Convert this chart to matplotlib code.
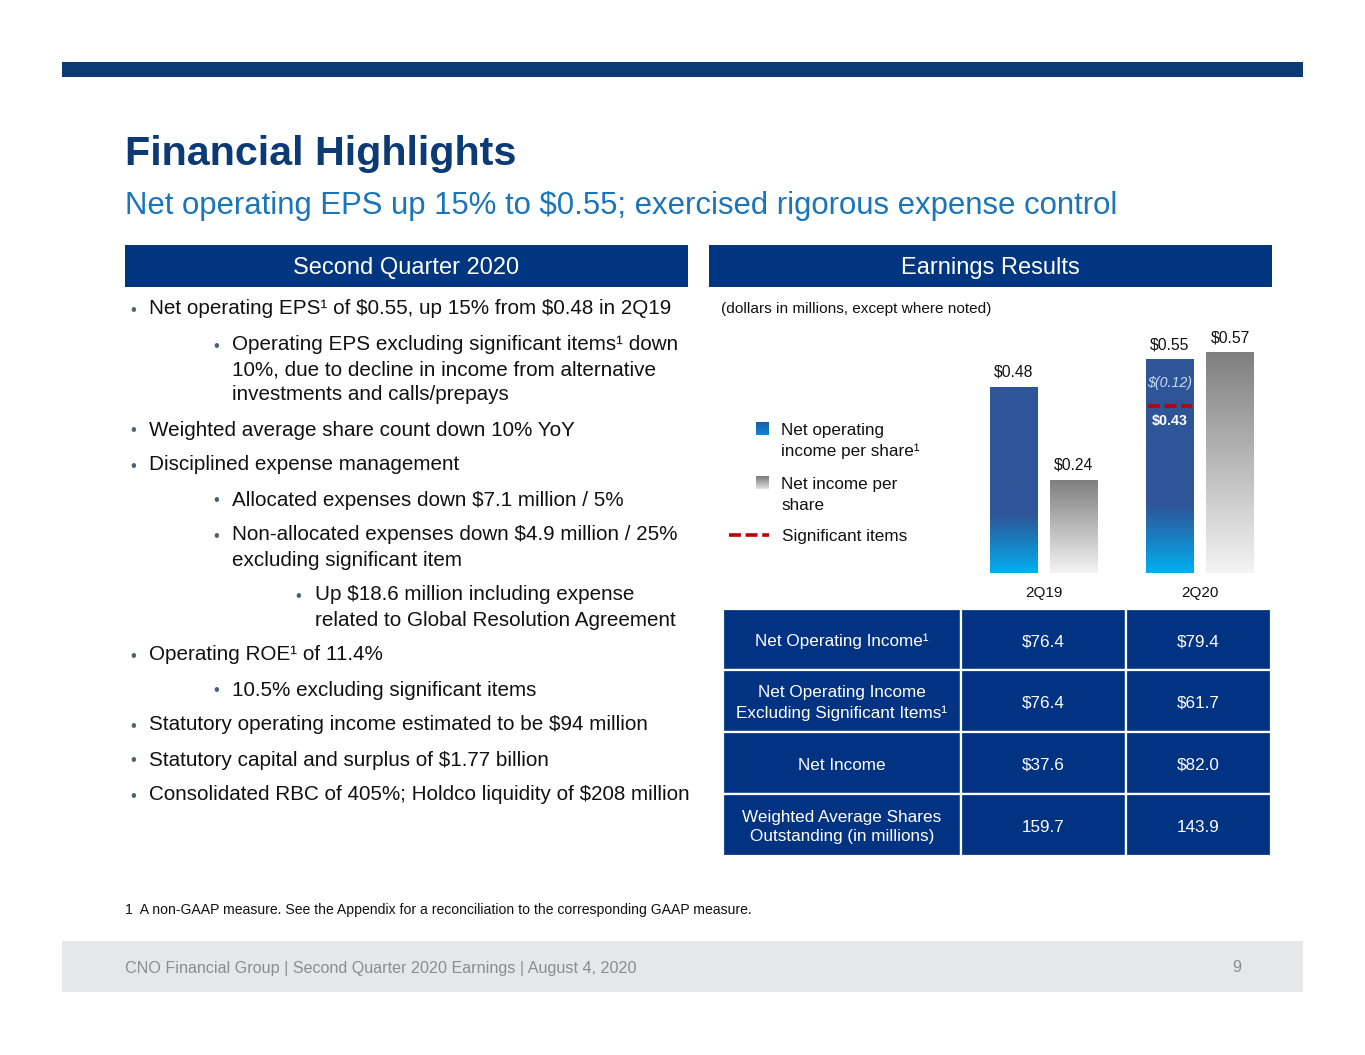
import numpy as np
import matplotlib
matplotlib.use('Agg')
import matplotlib.pyplot as plt
from matplotlib.patches import Rectangle
from matplotlib.colors import to_rgb

plt.rcParams['font.family'] = ['Liberation Sans', 'DejaVu Sans']
plt.rcParams['text.parse_math'] = False

# ---------------- data ----------------
periods = ['2Q19', '2Q20']
net_operating_eps = [0.48, 0.55]
net_income_eps = [0.24, 0.57]
significant_items_2q20 = -0.12
eps_ex_significant_2q20 = 0.43

table_labels = ['Net Operating Income¹',
                'Net Operating Income\nExcluding Significant Items¹',
                'Net Income',
                'Weighted Average Shares\nOutstanding (in millions)']
table_2q19 = [76.4, 76.4, 37.6, 159.7]
table_2q20 = [79.4, 61.7, 82.0, 143.9]
table_is_dollar = [True, True, True, False]

bullets = [
    (0, ["Net operating EPS¹ of $0.55, up 15% from $0.48 in 2Q19"]),
    (1, ["Operating EPS excluding significant items¹ down",
         "10%, due to decline in income from alternative",
         "investments and calls/prepays"]),
    (0, ["Weighted average share count down 10% YoY"]),
    (0, ["Disciplined expense management"]),
    (1, ["Allocated expenses down $7.1 million / 5%"]),
    (1, ["Non-allocated expenses down $4.9 million / 25%",
         "excluding significant item"]),
    (2, ["Up $18.6 million including expense",
         "related to Global Resolution Agreement"]),
    (0, ["Operating ROE¹ of 11.4%"]),
    (1, ["10.5% excluding significant items"]),
    (0, ["Statutory operating income estimated to be $94 million"]),
    (0, ["Statutory capital and surplus of $1.77 billion"]),
    (0, ["Consolidated RBC of 405%; Holdco liquidity of $208 million"]),
]
bullet_y = [307, 343, 428, 463, 498, 533, 593, 653, 688, 723, 758, 793]

# ---------------- styles ----------------
NAVY = '#0B3A74'
HEAD = '#003580'
CELL = '#023383'
BLUE_TOP = '#2E5597'
CYAN = '#00B2F2'
GRAY_TOP = '#7F7F7F'
GRAY_BOT = '#F4F4F4'
RED = '#C00000'
DASH = (0, (3.3, 1.3))
W, H = 1365, 1055
DY = 2  # small vertical correction for text centring

fig = plt.figure(figsize=(W / 100, H / 100), dpi=100)
bg = fig.add_axes([0, 0, 1, 1])
bg.set_xlim(0, W)
bg.set_ylim(H, 0)
bg.axis('off')

def T(x, y, s, **kw):
    kw.setdefault('va', 'center')
    kw.setdefault('ha', 'left')
    return bg.text(x, y + DY, s, **kw)

# top band
bg.add_patch(Rectangle((62, 62), 1241, 15, color=NAVY, lw=0))
# title / subtitle
T(125, 152, 'Financial Highlights', fontsize=29.7, fontweight='bold', color=NAVY)
T(125, 204, 'Net operating EPS up 15% to $0.55; exercised rigorous expense control',
  fontsize=22.4, color='#1B75BB')

# header boxes
bg.add_patch(Rectangle((125, 245), 563, 42, color=HEAD, lw=0))
bg.add_patch(Rectangle((709, 245), 563, 42, color=HEAD, lw=0))
T(406, 266, 'Second Quarter 2020', fontsize=17, color='white', ha='center')
T(990, 266, 'Earnings Results', fontsize=17, color='white', ha='center')

# bullets
bx = [130, 213, 295]
tx = [149, 232, 315]
for (lvl, lines), y0 in zip(bullets, bullet_y):
    T(bx[lvl], y0 + 1, '•', fontsize=12, color='#4F6075')
    for i, ln in enumerate(lines):
        T(tx[lvl], y0 + 25 * i, ln, fontsize=14.85, color='#111111')

T(721, 307, '(dollars in millions, except where noted)', fontsize=11.1, color='#111111')

# legend
def vgrad(top, bot, n=64):
    t = np.linspace(0, 1, n)[:, None]
    a, b = np.array(to_rgb(top)), np.array(to_rgb(bot))
    return (a * (1 - t) + b * t)[:, None, :].repeat(2, axis=1)

bg.imshow(vgrad('#1F5AA8', '#0A8AD6'), extent=[756, 769, 435, 422], origin='upper',
          aspect='auto', zorder=3)
bg.imshow(vgrad('#7A7A7A', '#E2E2E2'), extent=[756, 769, 489, 476], origin='upper',
          aspect='auto', zorder=3)
bg.plot([729, 769], [535, 535], color=RED, lw=2.6, linestyle=DASH, zorder=3)
T(781, 429, 'Net operating', fontsize=12.3, color='#111111')
T(781, 449, 'income per share¹', fontsize=12.3, color='#111111')
T(781, 483, 'Net income per', fontsize=12.3, color='#111111')
T(781, 503, 'share', fontsize=12.3, color='#111111')
T(782, 534, 'Significant items', fontsize=12.3, color='#111111')

# table
xs = [723, 961, 1126, 1271]
ys = [609, 670, 732, 794, 856]
for r in range(4):
    for c in range(3):
        bg.add_patch(Rectangle((xs[c], ys[r]), xs[c + 1] - xs[c], ys[r + 1] - ys[r],
                               facecolor=CELL, edgecolor='white', lw=1.6))
    yc = (ys[r] + ys[r + 1]) / 2
    T((xs[0] + xs[1]) / 2, yc, table_labels[r], fontsize=12.3, color='white',
      ha='center', linespacing=1.4)
    for c, vals in ((1, table_2q19), (2, table_2q20)):
        v = vals[r]
        s = f'${v:.1f}' if table_is_dollar[r] else f'{v:.1f}'
        T((xs[c] + xs[c + 1]) / 2, yc, s, fontsize=12.3, color='white', ha='center')

# footnote and footer
T(125, 908, '1  A non-GAAP measure. See the Appendix for a reconciliation to the corresponding GAAP measure.',
  fontsize=10.05, color='#111111')
bg.add_patch(Rectangle((62, 941), 1241, 51, color='#E6E7E8', lw=0))
T(125, 966, 'CNO Financial Group | Second Quarter 2020 Earnings | August 4, 2020',
  fontsize=11.65, color='#8A8C8E')
T(1241, 966, '9', fontsize=11.65, color='#8A8C8E', ha='right')

bg.set_xlim(0, W)
bg.set_ylim(H, 0)

# ---------------- bar chart ----------------
base_px, top_px, left_px, right_px = 573, 333, 960, 1280
bax = fig.add_axes([left_px / W, (H - base_px) / H, (right_px - left_px) / W,
                    (base_px - top_px) / H])
bax.patch.set_alpha(0)
bax.axis('off')
x = np.arange(len(periods))
off, bw = 30 / 156, 48 / 156
b1 = bax.bar(x - off, net_operating_eps, bw, color='none', lw=0)
b2 = bax.bar(x + off, net_income_eps, bw, color='none', lw=0)

def blue_grad(n=256):
    t = np.linspace(0, 1, n)  # bottom -> top
    f = np.clip(t / 0.32, 0, 1) ** 0.9
    a, b = np.array(to_rgb(CYAN)), np.array(to_rgb(BLUE_TOP))
    return (a[None, :] * (1 - f[:, None]) + b[None, :] * f[:, None])[:, None, :].repeat(2, axis=1)

def gray_grad(n=256):
    t = np.linspace(0, 1, n)
    a, b = np.array(to_rgb(GRAY_BOT)), np.array(to_rgb(GRAY_TOP))
    return (a[None, :] * (1 - t[:, None]) + b[None, :] * t[:, None])[:, None, :].repeat(2, axis=1)

for bars, grad in ((b1, blue_grad()), (b2, gray_grad())):
    for p in bars:
        x0, w, h = p.get_x(), p.get_width(), p.get_height()
        bax.imshow(grad, extent=[x0, x0 + w, 0, h], origin='lower', aspect='auto', zorder=2)
        bax.annotate(f'${h:.2f}', (x0 + w / 2, h), xytext=(0, 10.5), textcoords='offset points',
                     ha='center', va='center', fontsize=11.3, color='#111111')

# significant items marker on 2Q20 operating bar
p = b1[1]
xa, xb = p.get_x() + 0.015, p.get_x() + p.get_width() - 0.015
bax.plot([xa, xb], [eps_ex_significant_2q20] * 2, color=RED, lw=2.6,
         linestyle=DASH, zorder=4)
xc = p.get_x() + p.get_width() / 2
bax.annotate(f'$({abs(significant_items_2q20):.2f})', (xc, eps_ex_significant_2q20),
             xytext=(0, 16.5), textcoords='offset points', ha='center', va='center',
             fontsize=10.3, style='italic', color='#C9DCF2', zorder=5)
bax.annotate(f'${eps_ex_significant_2q20:.2f}', (xc, eps_ex_significant_2q20),
             xytext=(0, -10.5), textcoords='offset points', ha='center', va='center',
             fontsize=10.3, fontweight='bold', color='white', zorder=5)

for xi, lab in zip(x, periods):
    bax.text(xi, -20 / 387.5, lab, ha='center', va='center', fontsize=11, color='#111111')

bax.set_xlim((left_px - 1044) / 156, (right_px - 1044) / 156)
bax.set_ylim(0, (base_px - top_px) / 387.5)

fig.savefig('out.png', dpi=100)
